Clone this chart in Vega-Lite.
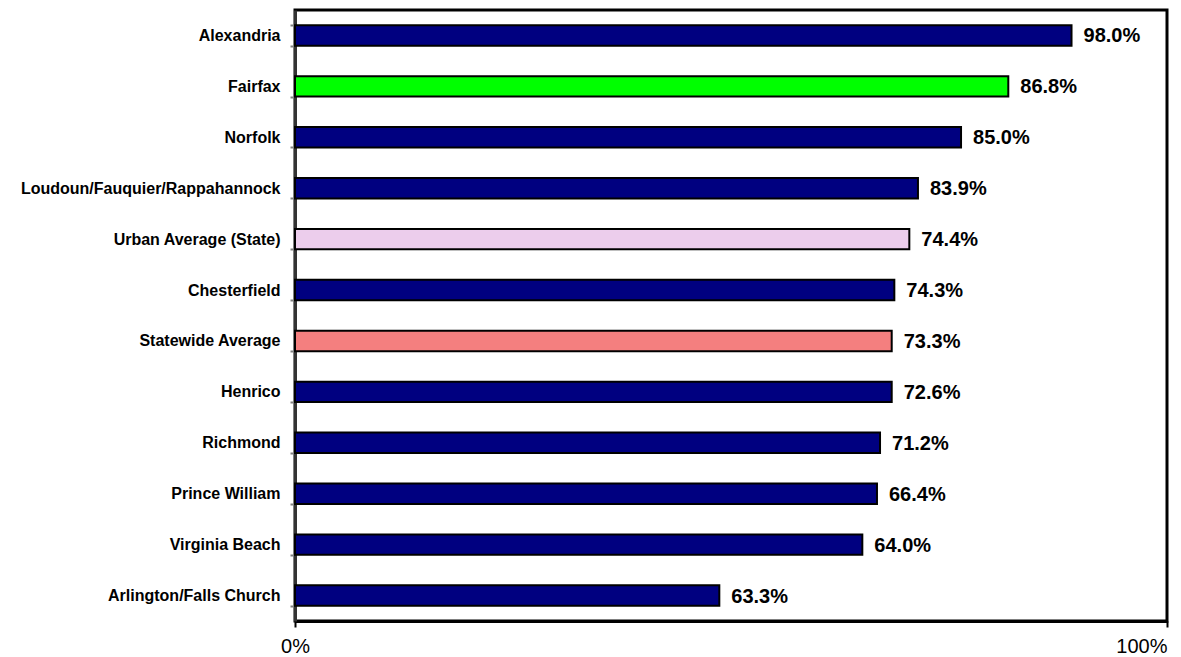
{
  "$schema": "https://vega.github.io/schema/vega-lite/v6.json",
  "autosize": {"type": "none"},
  "padding": {"left": 295, "top": 10, "right": 14, "bottom": 36},
  "width": 872,
  "height": 611,
  "background": "white",
  "config": {
    "view": {"stroke": "black", "strokeWidth": 3},
    "font": "Liberation Sans"
  },
  "data": {
    "values": [
      {"name": "Alexandria", "len": 0.8905, "label": "98.0%", "group": "county"},
      {"name": "Fairfax", "len": 0.818, "label": "86.8%", "group": "fairfax"},
      {"name": "Norfolk", "len": 0.7638, "label": "85.0%", "group": "county"},
      {"name": "Loudoun/Fauquier/Rappahannock", "len": 0.7144, "label": "83.9%", "group": "county"},
      {"name": "Urban Average (State)", "len": 0.7045, "label": "74.4%", "group": "urban"},
      {"name": "Chesterfield", "len": 0.6873, "label": "74.3%", "group": "county"},
      {"name": "Statewide Average", "len": 0.6843, "label": "73.3%", "group": "state"},
      {"name": "Henrico", "len": 0.6843, "label": "72.6%", "group": "county"},
      {"name": "Richmond", "len": 0.6709, "label": "71.2%", "group": "county"},
      {"name": "Prince William", "len": 0.6674, "label": "66.4%", "group": "county"},
      {"name": "Virginia Beach", "len": 0.6506, "label": "64.0%", "group": "county"},
      {"name": "Arlington/Falls Church", "len": 0.4866, "label": "63.3%", "group": "county"}
    ]
  },
  "encoding": {
    "y": {
      "field": "name",
      "type": "nominal",
      "sort": null,
      "scale": {"paddingInner": 0.6, "paddingOuter": 0.3},
      "axis": {
        "title": null,
        "tickBand": "extent",
        "labelFont": "Liberation Sans",
        "labelFontSize": 16,
        "labelFontWeight": "bold",
        "labelColor": "black",
        "labelLimit": 0,
        "labelPadding": 10,
        "tickSize": 5,
        "tickWidth": 2,
        "tickColor": "#808080",
        "domainColor": "#333333",
        "domainWidth": 3
      }
    }
  },
  "layer": [
    {
      "mark": {"type": "bar", "stroke": "black", "strokeWidth": 2},
      "encoding": {
        "x": {
          "field": "len",
          "type": "quantitative",
          "scale": {"domain": [0, 1], "nice": false},
          "axis": {
            "title": null,
            "values": [0, 1],
            "format": ".0%",
            "grid": false,
            "labelFont": "Liberation Sans",
            "labelFontSize": 20,
            "labelColor": "black",
            "labelPadding": 9,
            "labelAlign": {"expr": "datum.value === 1 ? 'right' : 'center'"},
            "labelDx": {"expr": "datum.value === 1 ? 6 : 0"},
            "tickSize": 6,
            "tickWidth": 2,
            "tickColor": "black",
            "domainColor": "black",
            "domainWidth": 3
          }
        },
        "fill": {
          "field": "group",
          "type": "nominal",
          "scale": {
            "domain": ["county", "fairfax", "urban", "state"],
            "range": ["#000080", "#00ff00", "#eccdec", "#f47f7f"]
          },
          "legend": null
        }
      }
    },
    {
      "mark": {
        "type": "text",
        "align": "left",
        "baseline": "middle",
        "dx": 12,
        "dy": 1,
        "font": "Liberation Sans",
        "fontSize": 20,
        "fontWeight": "bold",
        "color": "black"
      },
      "encoding": {
        "x": {"field": "len", "type": "quantitative"},
        "text": {"field": "label"}
      }
    }
  ]
}
